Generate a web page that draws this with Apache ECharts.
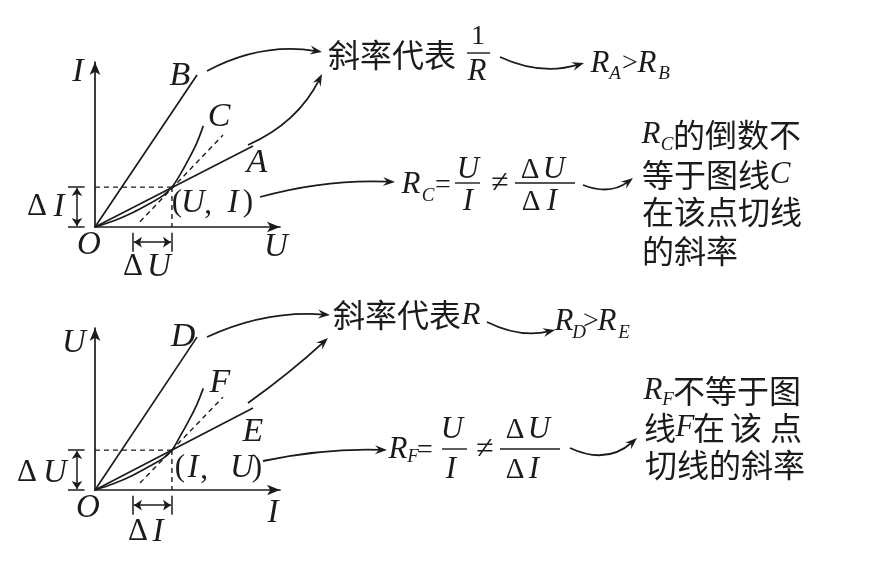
<!DOCTYPE html>
<html>
<head>
<meta charset="utf-8">
<style>
  html, body { margin: 0; padding: 0; background: #fff; }
  #chart { width: 873px; height: 564px; }
</style>
<script src="https://cdn.jsdelivr.net/npm/echarts@6.0.0/dist/echarts.min.js"></script>
</head>
<body>
<div id="chart"></div>
<script>
// 上图：I-U 图线（横轴 U，纵轴 I）
var lineB = [[0, 0], [5.37, 8.0]];
var lineA = [[0, 0], [8.32, 4.26]];
var curveC = [[0, 0], [1, 0.33], [2, 0.76], [3, 1.3], [3.6, 1.66], [4.05, 2.1], [4.47, 2.74], [4.91, 3.53], [5.35, 4.4], [5.7, 5.32]];
var tangentC = [[2.37, 0.28], [6.74, 4.84]];
var pointUI = [4.05, 2.1];
var deltaU = [2.0, 4.05];

// 下图：U-I 图线（横轴 I，纵轴 U）
var lineD = [[0, 0], [5.37, 8.05]];
var lineE = [[0, 0], [8.32, 4.32]];
var curveF = [[0, 0], [1, 0.34], [2, 0.78], [3, 1.32], [3.6, 1.68], [4.05, 2.1], [4.47, 2.81], [4.91, 3.6], [5.35, 4.47], [5.7, 5.35]];
var tangentF = [[2.37, 0.37], [6.74, 4.89]];
var pointIU = [4.05, 2.1];
var deltaI = [2.0, 4.05];

var ink = '#1b1b1b';
var serif = '"Liberation Serif", "DejaVu Serif", serif';
var cjk = '"Noto Sans CJK SC", sans-serif';

var chart = echarts.init(document.getElementById('chart'));

function axis(gi, max) {
  return {
    type: 'value', gridIndex: gi, min: 0, max: max,
    axisLine: { show: true, onZero: false, symbol: ['none', 'arrow'], symbolSize: [8, 13],
                lineStyle: { color: ink, width: 1.7 } },
    axisTick: { show: false }, axisLabel: { show: false }, splitLine: { show: false }
  };
}

function solid(gi, data, smooth) {
  return { type: 'line', xAxisIndex: gi, yAxisIndex: gi, data: data, symbol: 'none',
           smooth: smooth || false, clip: false, silent: true,
           lineStyle: { color: ink, width: 1.7 } };
}
function dashed(gi, data) {
  return { type: 'line', xAxisIndex: gi, yAxisIndex: gi, data: data, symbol: 'none',
           clip: false, silent: true,
           lineStyle: { color: ink, width: 1.4, type: [5, 4] } };
}
function segs(gi, list, arrows) {
  return { type: 'lines', coordinateSystem: 'cartesian2d', xAxisIndex: gi, yAxisIndex: gi,
           clip: false, silent: true,
           symbol: arrows ? ['arrow', 'arrow'] : ['none', 'none'], symbolSize: 8,
           lineStyle: { color: ink, width: 1.5, opacity: 1 },
           data: list.map(function (c) { return { coords: c }; }) };
}

// 每个面板的辅助线、Δ 标注，都从数据点推出
function panel(gi, l1, l2, curve, tangent, p, d) {
  var h = -0.8;
  return [
    solid(gi, l1), solid(gi, l2), solid(gi, curve, 0.35),
    dashed(gi, tangent),
    dashed(gi, [[0, p[1]], p]),
    dashed(gi, [p, [p[0], 0]]),
    segs(gi, [[[-0.95, 0.05], [-0.95, p[1] - 0.05]], [[d[0] + 0.05, h], [d[1] - 0.05, h]]], true),
    segs(gi, [[[-1.42, 0], [-0.55, 0]], [[-1.42, p[1]], [-0.55, p[1]]],
              [[d[0], -0.3], [d[0], -1.3]], [[d[1], -0.3], [d[1], -1.3]]], false)
  ];
}

function t(str, x, y, size, italic, align) {
  var a = align || 'center';
  return { type: 'text', x: x, y: y, silent: true, z: 10,
           style: { text: str, fill: ink, font: (italic ? 'italic ' : '') + size + 'px ' + serif,
                    textAlign: a, align: a, textVerticalAlign: 'middle', verticalAlign: 'middle' } };
}
function zh(str, x, y) {
  return { type: 'text', x: x, y: y, silent: true, z: 10,
           style: { text: str, fill: ink, font: '32px ' + cjk,
                    textAlign: 'left', align: 'left', textVerticalAlign: 'middle', verticalAlign: 'middle' } };
}
function bar(x1, x2, y) {
  return { type: 'line', silent: true, shape: { x1: x1, y1: y, x2: x2, y2: y },
           style: { stroke: ink, lineWidth: 1.4 } };
}
function arrow(x1, y1, x2, y2, c) {
  var cx = (x1 + x2) / 2 - (y1 - y2) * c, cy = (y1 + y2) / 2 - (x2 - x1) * c;
  var dx = x2 - cx, dy = y2 - cy, len = Math.sqrt(dx * dx + dy * dy);
  var ux = dx / len, uy = dy / len, nx = -uy, ny = ux;
  var L = 12, W = 4.5, bx = x2 - ux * L, by = y2 - uy * L;
  return [
    { type: 'bezierCurve', silent: true,
      shape: { x1: x1, y1: y1, x2: x2 - ux * 6, y2: y2 - uy * 6, cpx1: cx, cpy1: cy },
      style: { stroke: ink, lineWidth: 1.8, fill: 'none' } },
    { type: 'polygon', silent: true,
      shape: { points: [[x2, y2], [bx + nx * W, by + ny * W], [x2 - ux * L * 0.65, y2 - uy * L * 0.65], [bx - nx * W, by - ny * W]] },
      style: { fill: ink } }
  ];
}

var texts = [
  // 上图标注
  t('I', 78, 72, 34, true), t('B', 180, 76, 34, true), t('C', 219, 117, 34, true), t('A', 257, 163, 34, true),
  t('Δ', 37, 207, 31), t('I', 59, 207, 33, true),
  t('(', 177, 203, 31), t('U', 193, 203, 33, true), t(',', 208, 205, 31), t('I', 233, 203, 33, true), t(')', 248, 203, 31),
  t('O', 89, 245, 33, true), t('U', 276, 247, 33, true),
  t('Δ', 133, 267, 31), t('U', 159, 267, 33, true),
  // 下图标注
  t('U', 74, 343, 33, true), t('D', 183, 337, 34, true), t('F', 220, 383, 34, true), t('E', 253, 432, 34, true),
  t('Δ', 27, 473, 31), t('U', 55, 473, 33, true),
  t('(', 180, 468, 31), t('I', 193, 468, 33, true), t(',', 204, 470, 31), t('U', 242, 468, 33, true), t(')', 257, 468, 31),
  t('O', 88, 508, 33, true), t('I', 273, 513, 33, true),
  t('Δ', 138, 532, 31), t('I', 158, 532, 33, true),

  // 上方说明
  zh('斜率代表', 328, 55), t('1', 478, 37, 28), bar(467, 490, 53), t('R', 477, 72, 31, true),
  t('R', 600, 64, 31, true), t('A', 615, 74, 19, true), t('>', 630, 64, 28), t('R', 647, 64, 31, true), t('B', 664, 74, 19, true),
  t('R', 411, 185, 31, true), t('C', 428, 196, 19, true), t('=', 443, 186, 28),
  t('U', 468, 170, 31, true), bar(455, 480, 183), t('I', 468, 202, 31, true),
  t('≠', 500, 184, 32),
  t('Δ', 530, 170, 29), t('U', 554, 170, 31, true), bar(515, 575, 183), t('Δ', 531, 202, 29), t('I', 552, 202, 31, true),
  t('R', 651, 135, 31, true), t('C', 667, 145, 19, true), zh('的倒数不', 673, 135),
  zh('等于图线', 642, 175), t('C', 780, 175, 31, true),
  zh('在该点切线', 642, 212),
  zh('的斜率', 642, 251),

  // 下方说明
  zh('斜率代表', 333, 315), t('R', 471, 316, 31, true),
  t('R', 564, 322, 31, true), t('D', 579, 333, 19, true), t('>', 591, 322, 28), t('R', 607, 322, 31, true), t('E', 624, 333, 19, true),
  t('R', 398, 450, 31, true), t('F', 413, 457, 19, true), t('=', 425, 451, 28),
  t('U', 452, 430, 31, true), bar(442, 467, 449), t('I', 451, 470, 31, true),
  t('≠', 485, 450, 32),
  t('Δ', 515, 430, 29), t('U', 539, 430, 31, true), bar(500, 560, 449), t('Δ', 515, 470, 29), t('I', 534, 470, 31, true),
  t('R', 653, 391, 31, true), t('F', 668, 400, 19, true), zh('不等于图', 673, 391),
  zh('线', 644, 428), t('F', 685, 428, 31, true), zh('在', 693, 428), zh('该', 730, 428), zh('点', 770, 428),
  zh('切线的斜率', 645, 465)
];

var arrows = [].concat(
  arrow(207, 71, 322, 52, 0.17),
  arrow(248, 145, 322, 74, -0.18),
  arrow(260, 197, 395, 182, 0.08),
  arrow(500, 57, 584, 63, -0.19),
  arrow(583, 185, 633, 178, -0.28),
  arrow(207, 337, 330, 315, 0.13),
  arrow(248, 403, 328, 338, -0.03),
  arrow(263, 461, 387, 450, 0.06),
  arrow(487, 322, 555, 330, -0.18),
  arrow(570, 448, 637, 438, -0.33)
);

var option = {
  backgroundColor: '#ffffff',
  animation: false,
  grid: [
    { left: 95, top: 62, width: 185, height: 165 },
    { left: 95, top: 328, width: 185, height: 162 }
  ],
  xAxis: [axis(0, 9.74), axis(1, 9.74)],
  yAxis: [axis(0, 8.68), axis(1, 8.53)],
  series: [].concat(
    panel(0, lineB, lineA, curveC, tangentC, pointUI, deltaU),
    panel(1, lineD, lineE, curveF, tangentF, pointIU, deltaI)
  ),
  graphic: texts.concat(arrows)
};

chart.setOption(option);
</script>
</body>
</html>
